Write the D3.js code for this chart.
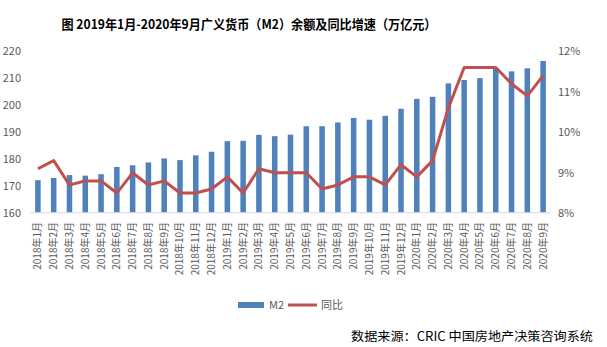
<!DOCTYPE html>
<html><head><meta charset="utf-8">
<script src="https://cdn.jsdelivr.net/npm/d3@7"></script>
<style>body{margin:0;background:#fff}svg{display:block}</style>
</head><body>
<script>
const months = ["2018年1月","2018年2月","2018年3月","2018年4月","2018年5月","2018年6月","2018年7月","2018年8月","2018年9月","2018年10月","2018年11月","2018年12月",
"2019年1月","2019年2月","2019年3月","2019年4月","2019年5月","2019年6月","2019年7月","2019年8月","2019年9月","2019年10月","2019年11月","2019年12月",
"2020年1月","2020年2月","2020年3月","2020年4月","2020年5月","2020年6月","2020年7月","2020年8月","2020年9月"];
const m2 = [172.08,172.91,173.99,173.77,174.31,177.02,177.62,178.67,180.17,179.56,181.32,182.67,
186.59,186.74,188.94,188.44,189.02,192.14,192.15,193.55,195.23,194.56,196.01,198.65,
202.31,203.08,208.09,209.35,210.02,213.49,212.55,213.68,216.41];
const yoy = [9.1,9.3,8.7,8.8,8.8,8.5,9.0,8.7,8.8,8.5,8.5,8.6,
8.9,8.5,9.1,9.0,9.0,9.0,8.6,8.7,8.9,8.9,8.7,9.2,
8.9,9.3,10.6,11.6,11.6,11.6,11.2,10.9,11.4];
const leftTicks = [160,170,180,190,200,210,220];
const rightTicks = [8,9,10,11,12];
const title = "图 2019年1月-2020年9月广义货币（M2）余额及同比增速（万亿元）";
const source = "数据来源：CRIC 中国房地产决策咨询系统";

const W = 607, H = 347;
const svg = d3.select("body").append("svg").attr("width", W).attr("height", H);
const font = "'Microsoft YaHei','Noto Sans CJK SC',sans-serif";

const x = d3.scaleBand().domain(months).range([30, 551]).paddingInner(0.65).paddingOuter(0.325);
const yL = d3.scaleLinear().domain([160, 220]).range([212.7, 51.3]);
const yR = d3.scaleLinear().domain([8, 12]).range([213.3, 51.3]);

// title
svg.append("text").attr("x", 249).attr("y", 29).attr("text-anchor", "middle")
  .attr("font-family", "'Noto Sans CJK SC',sans-serif").attr("font-weight", "bold")
  .attr("font-size", 13).attr("fill", "#000").attr("textLength", 375).attr("lengthAdjust","spacingAndGlyphs").text(title);

// bars
svg.append("g").selectAll("rect").data(months).join("rect")
  .attr("x", d => x(d)).attr("width", x.bandwidth())
  .attr("y", (d, i) => yL(m2[i])).attr("height", (d, i) => yL(160) - yL(m2[i]))
  .attr("fill", "#4f81bd");

// baseline
svg.append("line").attr("x1", 30).attr("x2", 551).attr("y1", 212.7).attr("y2", 212.7)
  .attr("stroke", "#d9d9d9").attr("stroke-width", 1);

// left axis
const gl = svg.append("g").attr("transform", "translate(21,0)")
  .call(d3.axisLeft(yL).tickValues(leftTicks).tickSize(0).tickPadding(0));
gl.select(".domain").remove();
gl.selectAll("text").attr("font-family", font).attr("font-size", 11).attr("fill", "#595959");

// right axis
const gr = svg.append("g").attr("transform", "translate(558,0)")
  .call(d3.axisRight(yR).tickValues(rightTicks).tickFormat(d => d + "%").tickSize(0).tickPadding(0));
gr.select(".domain").remove();
gr.selectAll("text").attr("font-family", font).attr("font-size", 11).attr("fill", "#595959");

// x axis labels
const gx = svg.append("g").attr("transform", "translate(0,213)")
  .call(d3.axisBottom(x).tickSize(0).tickPadding(0));
gx.select(".domain").remove();
gx.selectAll("text").attr("font-family", font).attr("font-size", 10).attr("fill", "#595959")
  .attr("text-anchor", "end").attr("dy", "0.35em")
  .attr("transform", "translate(0,9) rotate(-90)").attr("x", 0).attr("y", 0);

// line
const line = d3.line().x((d, i) => x(months[i]) + x.bandwidth() / 2).y(d => yR(d));
svg.append("path").datum(yoy).attr("d", line).attr("fill", "none")
  .attr("stroke", "#c0504d").attr("stroke-width", 3).attr("stroke-linejoin", "round");

// legend
svg.append("rect").attr("x", 238).attr("y", 302).attr("width", 26).attr("height", 6).attr("fill", "#4f81bd");
svg.append("text").attr("x", 269).attr("y", 305).attr("dy", "0.35em").attr("font-family", font)
  .attr("font-size", 11).attr("fill", "#595959").text("M2");
svg.append("line").attr("x1", 288).attr("x2", 317).attr("y1", 305).attr("y2", 305)
  .attr("stroke", "#c0504d").attr("stroke-width", 3);
svg.append("text").attr("x", 321).attr("y", 305).attr("dy", "0.35em").attr("font-family", font)
  .attr("font-size", 11).attr("fill", "#595959").text("同比");

// source
svg.append("text").attr("x", 351).attr("y", 337).attr("dy", "0.35em")
  .attr("font-family", "'Noto Sans CJK SC',sans-serif").attr("font-size", 12.5).attr("fill", "#000")
  .attr("textLength", 242).attr("lengthAdjust","spacingAndGlyphs").text(source);
</script>
</body></html>
